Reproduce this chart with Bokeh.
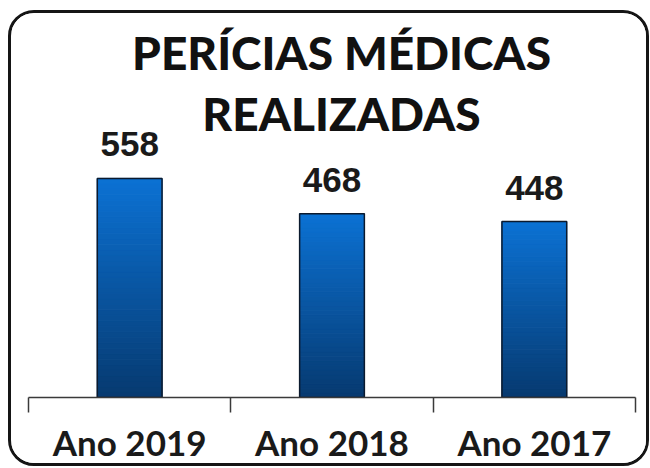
from bokeh.plotting import figure
from bokeh.models import FactorRange, Range1d, LinearAxis, FixedTicker, Label, ColumnDataSource
from bokeh.embed import file_html
from bokeh.resources import INLINE
from bokeh.core.properties import value

# ---- data ----
categories = ["Ano 2019", "Ano 2018", "Ano 2017"]
counts = [558, 468, 448]
title_lines = ["PERÍCIAS MÉDICAS", "REALIZADAS"]

# ---- styles ----
TOP_COLOR = (12, 114, 212)
BOTTOM_COLOR = (7, 58, 112)
N_SEG = 40
BAR_W = 0.32

p = figure(width=641, height=456, output_backend="svg", toolbar_location=None,
           x_range=FactorRange(factors=categories, range_padding=0),
           y_range=Range1d(0, 978),
           x_axis_location=None, y_axis_location=None,
           min_border_left=17, min_border_right=17, min_border_top=0, min_border_bottom=72)
p.outline_line_color = None
p.grid.visible = False
p.background_fill_color = "white"
p.border_fill_color = "white"
p.styles = {"border": "3px solid #151515", "border-radius": "26px", "overflow": "hidden",
            "margin-left": "8px", "margin-top": "10px"}

# gradient bars built from the data values
xs, bots, tops, cols = [], [], [], []
for c, v in zip(categories, counts):
    for k in range(N_SEG):
        t = (k + 0.5) / N_SEG
        r = int(BOTTOM_COLOR[0] + (TOP_COLOR[0] - BOTTOM_COLOR[0]) * t)
        g = int(BOTTOM_COLOR[1] + (TOP_COLOR[1] - BOTTOM_COLOR[1]) * t)
        b = int(BOTTOM_COLOR[2] + (TOP_COLOR[2] - BOTTOM_COLOR[2]) * t)
        xs.append(c)
        bots.append(v * k / N_SEG)
        tops.append(v * (k + 1) / N_SEG)
        cols.append("#%02x%02x%02x" % (r, g, b))
seg = ColumnDataSource(dict(x=xs, bottom=bots, top=tops, color=cols))
p.vbar(x="x", bottom="bottom", top="top", width=BAR_W, fill_color="color",
       line_color="color", line_width=1, source=seg)

src = ColumnDataSource(dict(x=categories, top=counts, label=[str(v) for v in counts]))
p.vbar(x="x", top="top", width=BAR_W, fill_alpha=0, line_color="#0b1a2e",
       line_width=1.5, source=src)

p.text(x="x", y="top", text="label", source=src, text_align="center",
       text_baseline="bottom", y_offset=-22, text_font=value("Liberation Sans"),
       text_font_style="bold", text_font_size="35px", text_color="#1a1a1a")

# axis: ticks at category boundaries, labels at centres
n = len(categories)
ax = LinearAxis(ticker=FixedTicker(ticks=[i + 0.5 for i in range(n)],
                                   minor_ticks=list(range(n + 1))))
ax.major_label_overrides = {i + 0.5: categories[i] for i in range(n)}
ax.major_tick_out = 0
ax.major_tick_in = 0
ax.minor_tick_out = 15
ax.minor_tick_in = 0
ax.minor_tick_line_color = "#3a3a3a"
ax.minor_tick_line_width = 1.5
ax.axis_line_color = "#3a3a3a"
ax.axis_line_width = 1.5
ax.major_label_standoff = 8
ax.major_label_text_font = "Lato"
ax.major_label_text_font_style = "bold"
ax.major_label_text_font_size = "35px"
ax.major_label_text_color = "#1a1a1a"
p.add_layout(ax, "below")

# title
for line, yv in zip(title_lines, [878, 724]):
    p.add_layout(Label(x=n / 2 + 0.047, y=yv, text=line, text_align="center",
                       text_baseline="alphabetic", text_font="Lato Black",
                       text_font_size="46px", text_color="#111111"))

open("out.html", "w").write(file_html(p, INLINE))
